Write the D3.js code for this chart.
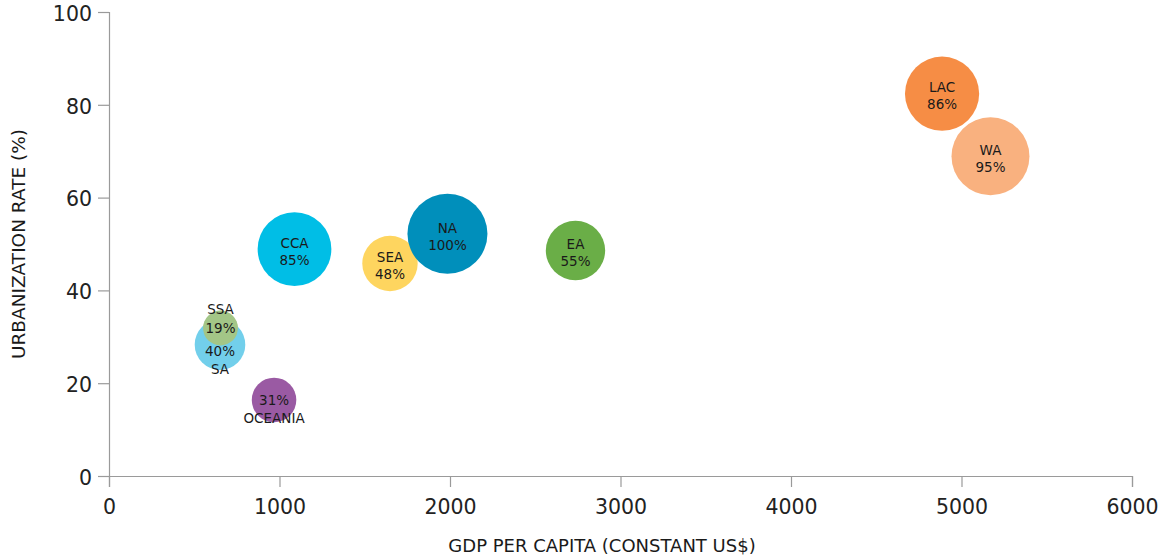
<!DOCTYPE html>
<html>
<head>
<meta charset="utf-8">
<script src="https://cdn.jsdelivr.net/npm/d3@7"></script>
<style>
  body { margin: 0; background: #fff; }
  text { font-family: "DejaVu Sans", sans-serif; fill: #1a1a1a; }
  .axis path, .axis line { stroke: #9a9a9a; stroke-width: 1.2px; }
  .axis text { font-size: 20.5px; fill: #222; }
</style>
</head>
<body>
<div id="chart-area"></div>
<script>
// data (array order = drawing order)
const regions = ["LAC", "WA", "CCA", "SEA", "NA", "EA", "SA", "SSA", "OCEANIA"]
const gdpPerCapita = [4886, 5170, 1088, 1648, 1985, 2736, 651, 654, 968]
const urbanRate = [82.4, 68.9, 48.9, 45.8, 52.2, 48.6, 28.3, 31.9, 16.4]
const sizePct = [86, 95, 85, 48, 100, 55, 40, 19, 31]
const xTicks = [0, 1000, 2000, 3000, 4000, 5000, 6000]
const yTicks = [0, 20, 40, 60, 80, 100]

const colors = {
  LAC: "#f68d45", WA: "#f9b17f", NA: "#008fbb", CCA: "#00bee6",
  SEA: "#fed55f", EA: "#6aae47", SSA: "#a3c687", SA: "#72cfeb", OCEANIA: "#9a5aa3"
}
// label placement: "in" = name over pct, "above" = name above bubble, "below" = name under bubble
const labelMode = { SSA: "above", SA: "below", OCEANIA: "below" }

const data = regions.map((r, i) => ({
  name: r, x: gdpPerCapita[i], y: urbanRate[i], pct: sizePct[i]
}))

const MARGIN = { LEFT: 109, RIGHT: 35, TOP: 12, BOTTOM: 82 }
const WIDTH = 1167 - MARGIN.LEFT - MARGIN.RIGHT
const HEIGHT = 558 - MARGIN.TOP - MARGIN.BOTTOM

const svg = d3.select("#chart-area").append("svg")
  .attr("width", 1167)
  .attr("height", 558)

const g = svg.append("g")
  .attr("transform", `translate(${MARGIN.LEFT}, ${MARGIN.TOP})`)

// scales
const x = d3.scaleLinear().domain([0, 6000]).range([0, WIDTH])
const y = d3.scaleLinear().domain([0, 100]).range([HEIGHT, 0])
const r = d3.scaleSqrt().domain([0, 100]).range([0, 40])

// axes
g.append("g")
  .attr("class", "x axis")
  .attr("transform", `translate(0, ${HEIGHT})`)
  .call(d3.axisBottom(x).tickValues(xTicks).tickSize(11).tickSizeOuter(11).tickPadding(10).tickFormat(d3.format("d")))
  .call(a => a.selectAll("text").attr("dy", "0.85em"))

g.append("g")
  .attr("class", "y axis")
  .call(d3.axisLeft(y).tickValues(yTicks).tickSize(11).tickSizeOuter(11).tickPadding(6).tickFormat(d3.format("d")))
  .call(a => a.selectAll("text").attr("dy", "0.4em"))

d3.selectAll(".axis .domain").attr("fill", "none")

// axis labels
g.append("text")
  .attr("x", 493)
  .attr("y", HEIGHT + 76)
  .attr("text-anchor", "middle")
  .attr("font-size", "18px")
  .text("GDP PER CAPITA (CONSTANT US$)")

g.append("text")
  .attr("transform", "rotate(-90)")
  .attr("x", -HEIGHT / 2)
  .attr("y", -84)
  .attr("text-anchor", "middle")
  .attr("font-size", "18.5px")
  .text("URBANIZATION RATE (%)")

// bubbles
const bubbles = g.selectAll(".bubble")
  .data(data)
  .enter().append("g")
  .attr("class", "bubble")
  .attr("transform", d => `translate(${x(d.x)}, ${y(d.y)})`)

bubbles.append("circle")
  .attr("r", d => r(d.pct))
  .attr("fill", d => colors[d.name])

bubbles.each(function(d) {
  const b = d3.select(this)
  const mode = labelMode[d.name] || "in"
  let nameY, pctY
  if (mode === "in") { nameY = -6; pctY = 11 }
  else if (mode === "above") { nameY = -19; pctY = 0 }
  else if (d.name === "SA") { pctY = 7; nameY = 25 }
  else { pctY = 0; nameY = 18 }
  b.append("text")
    .attr("y", nameY)
    .attr("dy", "0.35em")
    .attr("text-anchor", "middle")
    .attr("font-size", "13.5px")
    .text(d.name)
  b.append("text")
    .attr("y", pctY)
    .attr("dy", "0.35em")
    .attr("text-anchor", "middle")
    .attr("font-size", "13.5px")
    .text(d.pct + "%")
})
</script>
</body>
</html>
